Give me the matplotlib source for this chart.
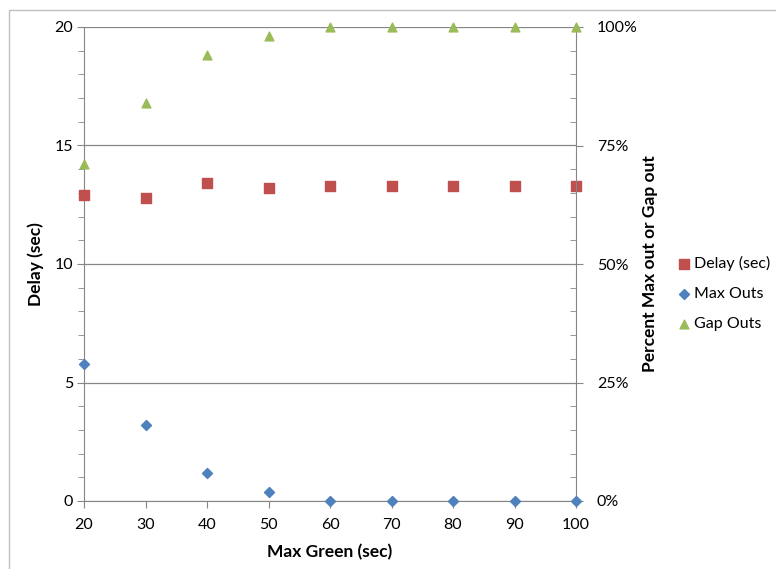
import matplotlib
matplotlib.use("Agg")
import matplotlib.pyplot as plt
from matplotlib.patches import Rectangle
from matplotlib.ticker import MultipleLocator, PercentFormatter

max_green = [20, 30, 40, 50, 60, 70, 80, 90, 100]
delay_sec = [12.9, 12.8, 13.4, 13.2, 13.3, 13.3, 13.3, 13.3, 13.3]
max_outs = [0.29, 0.16, 0.06, 0.02, 0.0, 0.0, 0.0, 0.0, 0.0]
gap_outs = [0.71, 0.84, 0.94, 0.98, 1.0, 1.0, 1.0, 1.0, 1.0]

plt.rcParams["font.family"] = ["Lato", "DejaVu Sans"]
plt.rcParams["font.size"] = 11.5

W, H = 776, 569
figure = plt.figure(figsize=(W / 100, H / 100), dpi=100)
left, right, top, bottom = 84, 576, 27, 501
axis = figure.add_axes([left / W, 1 - bottom / H, (right - left) / W, (bottom - top) / H])
twin = axis.twinx()

figure.patches.append(Rectangle((9 / W, -0.1), 1.2, 1 - 10 / H + 0.1, transform=figure.transFigure,
                                fill=False, edgecolor="#BFBFBF", linewidth=1.0))

grey = "#868686"
axis.scatter(max_green, delay_sec, marker="s", s=42, color="#C0504D", zorder=3, label="Delay (sec)", clip_on=False)
twin.scatter(max_green, max_outs, marker="D", s=26, color="#4F81BD", zorder=3, label="Max Outs", clip_on=False)
twin.scatter(max_green, gap_outs, marker="^", s=40, color="#9BBB59", zorder=3, label="Gap Outs", clip_on=False)

axis.set_xlim(20, 100)
axis.set_ylim(0, 20)
twin.set_ylim(0, 1)
axis.xaxis.set_major_locator(MultipleLocator(10))
axis.yaxis.set_major_locator(MultipleLocator(5))
axis.yaxis.set_minor_locator(MultipleLocator(1))
twin.yaxis.set_major_locator(MultipleLocator(0.25))
twin.yaxis.set_minor_locator(MultipleLocator(0.05))
twin.yaxis.set_major_formatter(PercentFormatter(1.0, decimals=0))

axis.grid(axis="y", color=grey, linewidth=0.9)
axis.set_axisbelow(True)
for a in (axis, twin):
    a.spines["top"].set_visible(False)
    a.tick_params(colors="black", labelsize=11.5)
axis.spines["right"].set_visible(False)
twin.spines["left"].set_visible(False)
twin.spines["bottom"].set_visible(False)
axis.spines["left"].set_color(grey)
axis.spines["bottom"].set_color(grey)
twin.spines["right"].set_color(grey)

axis.tick_params(axis="y", which="major", direction="out", length=5, color=grey, pad=3)
axis.tick_params(axis="x", which="major", direction="out", length=5, color=grey, pad=7)
axis.tick_params(axis="y", which="minor", direction="out", length=4, color=grey)
twin.tick_params(axis="y", which="major", direction="out", length=5, color=grey, pad=10)
twin.tick_params(axis="y", which="minor", direction="in", length=4, color=grey)

axis.set_xlabel("Max Green (sec)", fontweight="bold", fontsize=12.5, labelpad=9)
axis.set_ylabel("Delay (sec)", fontweight="bold", fontsize=12.5, labelpad=7)
twin.set_ylabel("Percent Max out or Gap out", fontweight="bold", fontsize=12.5, labelpad=3)

handles = [axis.collections[0], twin.collections[0], twin.collections[1]]
figure.legend(handles, [h.get_label() for h in handles], loc="upper left",
              bbox_to_anchor=(662 / W, 1 - 243 / H), frameon=False, handletextpad=0.0,
              handlelength=1.2, labelspacing=1.0, borderpad=0.3, scatterpoints=1, fontsize=11.5)

figure.savefig("out.png", dpi=100)
